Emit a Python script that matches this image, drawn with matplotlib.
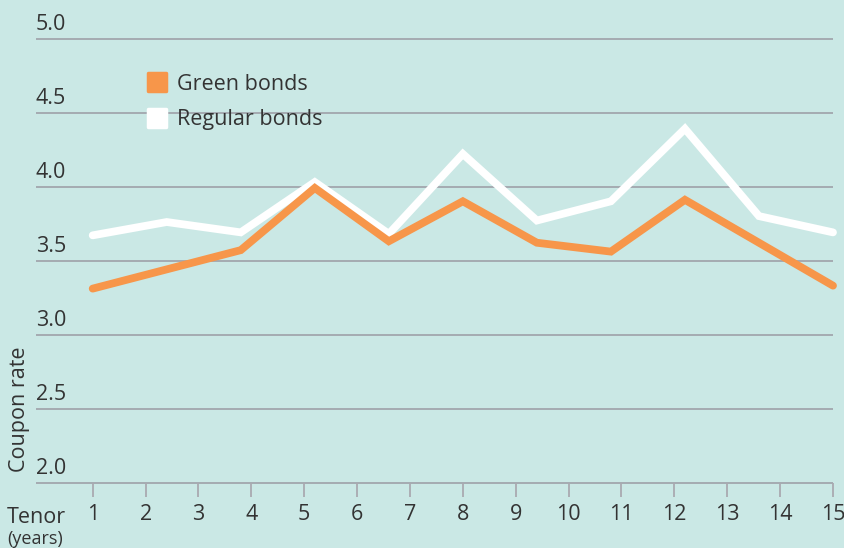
import matplotlib.pyplot as plt
from matplotlib.lines import Line2D
from matplotlib.markers import MarkerStyle

tenor = [1, 2.4, 3.8, 5.2, 6.6, 8, 9.4, 10.8, 12.2, 13.6, 15]
green = [3.31, 3.44, 3.57, 3.99, 3.63, 3.90, 3.62, 3.56, 3.91, 3.62, 3.33]
regular = [3.67, 3.76, 3.69, 4.03, 3.68, 4.22, 3.77, 3.90, 4.39, 3.80, 3.69]

x_ticks = list(range(1, 16))
y_ticks = [2.0, 2.5, 3.0, 3.5, 4.0, 4.5, 5.0]

bg = '#cae8e5'
orange = '#f7964a'
grid = '#9b9aa3'
txt = '#333333'
plt.rcParams['font.family'] = ['Open Sans', 'DejaVu Sans']

W, H = 845, 548
fig = plt.figure(figsize=(W / 100, H / 100), dpi=100, facecolor=bg)
ax = fig.add_axes([0, 0, 1, 1])
ax.set_facecolor(bg)
ax.axis('off')

# pixel mapping: x=1 -> 92.7px, 15 -> 833px ; y=5 -> 38.5px, step 148px per unit
sx = (833 - 92.7) / 14
sy = 148
ax.set_xlim(1 - 92.7 / sx, 1 + (W - 92.7) / sx)
ax.set_ylim(5 - (H - 38.5) / sy, 5 + 38.5 / sy)

x_left = 1 - (92.7 - 36) / sx
for v in y_ticks:
    ax.hlines(v, x_left, 15, color=grid, lw=1.1, zorder=1)
    ax.text(x_left, v + 0.06, f'{v:.1f}', color=txt, fontsize=15.5,
            ha='left', va='baseline')

ax.vlines(x_ticks, 2.0 - 14 / sy, 2.0, color='#a9a9b0', lw=1.3, zorder=1)
for t in x_ticks:
    ax.text(t, 2.0 - 32 / sy, str(t), color=txt, fontsize=15.5,
            ha='center', va='center')

ax.text(x_left - 29 / sx, 2.0 - 35 / sy, 'Tenor', color=txt, fontsize=15.5,
        ha='left', va='center')
ax.text(x_left - 29 / sx, 2.0 - 57 / sy, '(years)', color=txt, fontsize=13,
        ha='left', va='center')
ax.text(x_left - 16 / sx, 2.0 + 73 / sy, 'Coupon rate', color=txt, fontsize=15.5,
        rotation=90, ha='center', va='center')

ax.plot(tenor, regular, color='white', lw=5.6, solid_joinstyle='miter',
        solid_capstyle='round', zorder=3)
ax.plot(tenor, green, color=orange, lw=5.6, solid_joinstyle='miter',
        solid_capstyle='round', zorder=4)

sq = MarkerStyle('s', joinstyle='round')
handles = [Line2D([], [], ls='none', marker=sq, ms=13.5, mew=2.5, color=orange),
           Line2D([], [], ls='none', marker=sq, ms=13.5, mew=2.5, color='white')]
ax.legend(handles, ['Green bonds', 'Regular bonds'], frameon=False,
          loc='upper left', bbox_to_anchor=(141 / W, 1 - 74 / H),
          fontsize=15.5, labelcolor=txt, handletextpad=0.15, handlelength=1.5,
          labelspacing=0.66, borderaxespad=0, borderpad=0)

fig.savefig('out.png', dpi=100, facecolor=bg)
